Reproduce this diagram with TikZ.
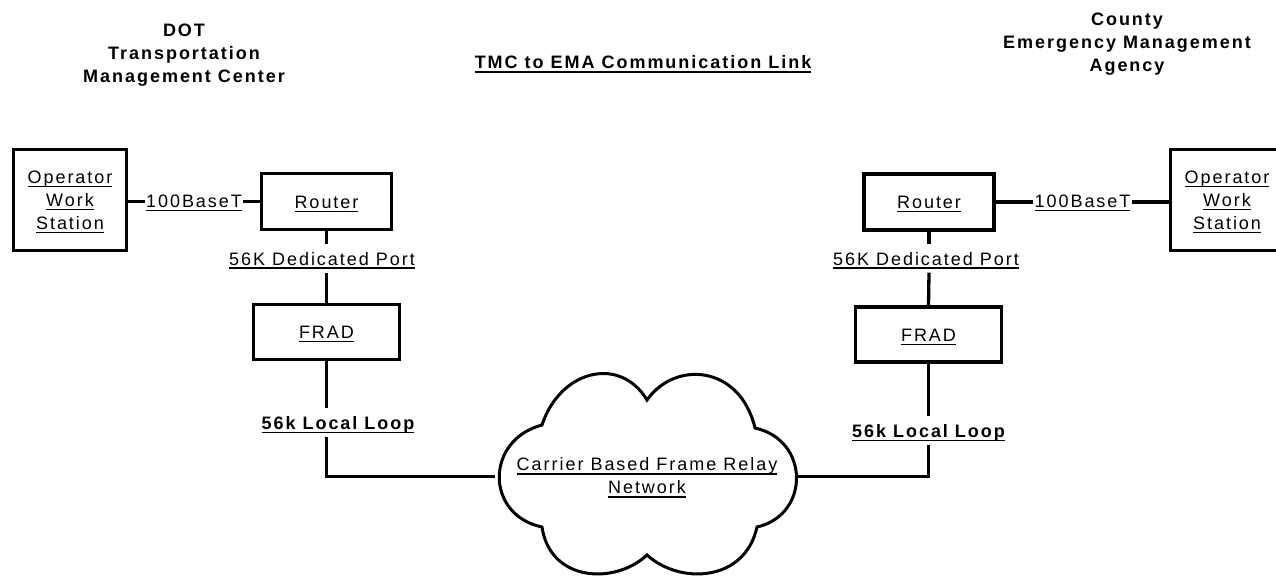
\documentclass[tikz,border=0pt]{standalone}
\usepackage{fontspec}
\setmainfont{Liberation Sans}[LetterSpace=11]
\newcommand\myul[1]{\leavevmode\setbox0=\hbox{#1}\rlap{\smash{\rule[-3.6pt]{\wd0}{1.3pt}}}\box0}
\newcommand\myulb[1]{\leavevmode\setbox0=\hbox{#1}\rlap{\smash{\rule[-4.4pt]{\wd0}{1.7pt}}}\box0}
\begin{document}
\begin{tikzpicture}[x=1pt,y=-1pt,
  every node/.style={font=\fontsize{18}{23}\selectfont},
  box/.style={draw,line width=3.3pt,inner sep=0pt,text height=13.6pt,text depth=0pt},
  opbox/.style={draw,line width=3.3pt,inner sep=0pt,align=center,minimum width=113pt,minimum height=101pt},
  routerbox/.style={box,minimum width=130pt,minimum height=56pt},
  fradbox/.style={box,minimum width=146pt,minimum height=55pt},
  wire/.style={line width=3.3pt},
  lbl/.style={inner xsep=1pt,inner ysep=7.5pt,text height=13pt,text depth=0pt,anchor=base},
  title/.style={font=\fontsize{18}{23}\selectfont\bfseries,align=center,inner sep=0pt}
]
\useasboundingbox (0,0) rectangle (1276,576);
% titles
\node[title] (tL) at (184,55) {DOT\\Transportation\\Management Center};
\node[title,anchor=base] (tM) at (643,68.3) {\myulb{TMC to EMA Communication Link}};
\node[title] (tR) at (1127,44.6) {County\\Emergency Management\\Agency};
% left side
\node[opbox] (opL) at (70,200) {\myul{Operator}\\\myul{Work}\\\myul{Station}};
\node[routerbox] (routerL) at (326.5,201.5) {\myul{Router}};
\node[fradbox] (frL) at (326.5,332) {\myul{FRAD}};
\node[lbl] (lbl100L) at (194,207.3) {\myul{100BaseT}};
\node[lbl] (lblPortL) at (322,265) {\myul{56K Dedicated Port}};
\node[lbl,font=\fontsize{18}{23}\selectfont\bfseries] (lblLoopL) at (338,429) {\myulb{56k Local Loop}};
% right side
\node[opbox] (opR) at (1227,200) {\myul{Operator}\\\myul{Work}\\\myul{Station}};
\node[routerbox] (routerR) at (929,202) {\myul{Router}};
\node[fradbox] (frR) at (928.5,334.5) {\myul{FRAD}};
\node[lbl] (lbl100R) at (1082.5,207.3) {\myul{100BaseT}};
\node[lbl] (lblPortR) at (926,265) {\myul{56K Dedicated Port}};
\node[lbl,font=\fontsize{18}{23}\selectfont\bfseries] (lblLoopR) at (928.5,437) {\myulb{56k Local Loop}};
% cloud
\draw[line width=3pt] (542,527) .. controls (485,515) and (485,440) .. (542,425)
  .. controls (560,370) and (620,355) .. (647,400)
  .. controls (675,360) and (740,365) .. (755,428)
  .. controls (810,440) and (810,515) .. (757,527)
  .. controls (745,582) and (680,585) .. (647,555)
  .. controls (615,585) and (550,582) .. cycle;
\node[align=center,inner sep=0pt] (cloud) at (647,476) {\myul{Carrier Based Frame Relay}\\\myul{Network}};
\coordinate (cloudW) at (495,476.7);
\coordinate (cloudE) at (798,476.7);
% left connectors
\draw[wire] (opL.east |- routerL.west) -- (lbl100L.west |- routerL.west);
\draw[wire] (lbl100L.east |- routerL.west) -- (routerL.west);
\draw[wire] (routerL.south) -- (routerL.south |- lblPortL.north);
\draw[wire] (routerL.south |- lblPortL.south) -- (frL.north);
\draw[wire] (frL.south) -- (frL.south |- lblLoopL.north);
\draw[wire] (frL.south |- lblLoopL.south) -- (frL.south |- cloudW) -- (cloudW);
% right connectors
\draw[wire] (routerR.east) -- (lbl100R.west |- routerR.east);
\draw[wire] (lbl100R.east |- routerR.east) -- (opR.west |- routerR.east);
\draw[wire] (routerR.south) -- (routerR.south |- lblPortR.north);
\draw[wire] (routerR.south |- lblPortR.south) -- (frR.north);
\draw[wire] (frR.south) -- (frR.south |- lblLoopR.north);
\draw[wire] (frR.south |- lblLoopR.south) -- (frR.south |- cloudE) -- (cloudE);
\end{tikzpicture}
\end{document}
